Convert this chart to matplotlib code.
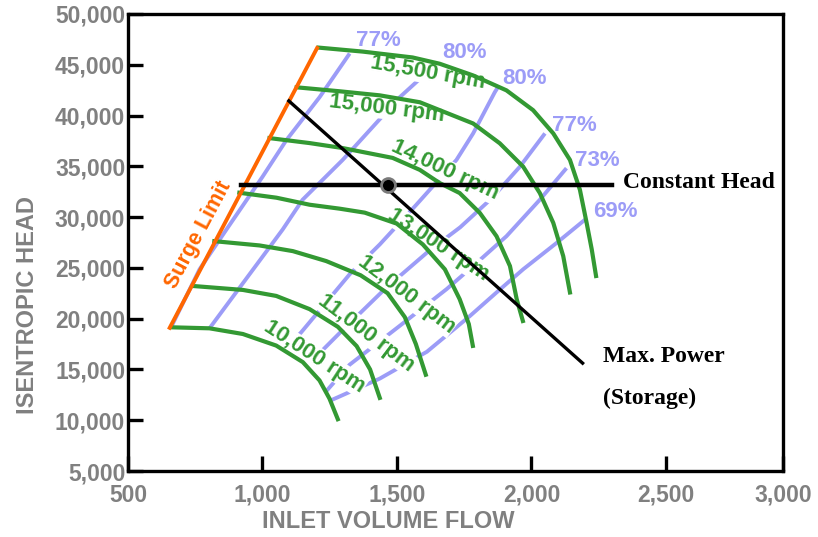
import matplotlib
matplotlib.use("Agg")
import matplotlib.pyplot as plt

plt.rcParams['font.family'] = ['Liberation Sans', 'DejaVu Sans']

GREEN = '#339933'
BLUE = '#9c9cf7'
ORANGE = '#ff6600'
GRAY = '#808080'

# speed lines: inlet volume flow vs isentropic head
flow_10k = [660, 803, 927, 1051, 1150, 1212, 1249, 1280]
head_10k = [19150, 19050, 18490, 17350, 15720, 13920, 12130, 10100]
flow_11k = [741, 927, 1051, 1175, 1280, 1350, 1400, 1436]
head_11k = [23220, 22830, 22240, 20940, 19200, 17300, 15000, 12200]
flow_12k = [821, 989, 1113, 1237, 1365, 1465, 1529, 1570, 1607]
head_12k = [27630, 27210, 26650, 25670, 24270, 22510, 20160, 17510, 14480]
flow_13k = [914, 1052, 1175, 1287, 1380, 1499, 1596, 1678, 1733, 1767, 1782]
head_13k = [32400, 31910, 31220, 30830, 30440, 29360, 27310, 24860, 21920, 19470, 17320]
flow_14k = [1026, 1175, 1298, 1484, 1585, 1659, 1733, 1808, 1870, 1920, 1945, 1968]
head_14k = [37780, 37290, 36800, 35830, 34650, 33350, 32370, 30410, 28120, 25180, 21920, 19770]
flow_15k = [1127, 1287, 1436, 1585, 1659, 1783, 1882, 1969, 2031, 2081, 2118, 2143]
head_15k = [42780, 42390, 41990, 41310, 40530, 39220, 37270, 34970, 32370, 29430, 26160, 22580]
flow_155k = [1209, 1372, 1558, 1659, 1783, 1907, 2006, 2081, 2143, 2180, 2205, 2224, 2240]
head_155k = [46690, 46300, 45720, 45100, 43950, 42480, 40530, 38240, 35630, 32690, 29430, 26820, 24200]

speed_names = ['10,000 rpm', '11,000 rpm', '12,000 rpm', '13,000 rpm',
               '14,000 rpm', '15,000 rpm', '15,500 rpm']

# efficiency lines
flow_e1 = [660, 766, 866, 1000, 1089, 1212, 1324]
head_e1 = [19150, 24860, 28780, 33970, 37590, 41800, 46110]
flow_e2 = [803, 1075, 1149, 1298, 1510, 1648]
head_e2 = [19050, 28780, 31710, 35630, 41800, 45130]
flow_e3 = [1082, 1144, 1324, 1436, 1572, 1721, 1783, 1864, 1878]
head_e3 = [16930, 18660, 24370, 27310, 31220, 35630, 38240, 42320, 42900]
flow_e4 = [1165, 1287, 1458, 1620, 1735, 1850, 1957, 2050]
head_e4 = [15350, 18590, 23000, 26700, 29000, 31800, 34970, 38240]
flow_e5 = [1235, 1324, 1510, 1684, 1783, 1907, 2031, 2130]
head_e5 = [12800, 15470, 19290, 22900, 25180, 28120, 31710, 34820]
flow_e6 = [1252, 1436, 1611, 1771, 1870, 1969, 2094, 2199]
head_e6 = [11930, 14100, 16740, 20260, 22580, 24860, 27470, 29750]

eff_names = ['77%', '80%', '80%', '77%', '73%', '69%']

surge_flow = [655, 1203]
surge_head = [19100, 46650]

const_head_flow = [921, 2298]
const_head = [33180, 33180]

max_power_flow = [1098, 2190]
max_power_head = [41440, 15620]

op_flow = 1466
op_head = 33180

x_ticks = [500, 1000, 1500, 2000, 2500, 2935]
x_tick_labels = ['500', '1,000', '1,500', '2,000', '2,500', '3,000']
y_ticks = [5000, 10000, 15000, 20000, 25000, 30000, 35000, 40000, 45000, 50000]

fig = plt.figure(figsize=(8.18, 5.37), dpi=100)
ax = fig.add_axes([128 / 818, 1 - 471 / 537, 655 / 818, 457 / 537])
ax.set_xlim(500, 2935)
ax.set_ylim(5000, 50000)

# efficiency lines (under everything)
eff_lines = [(flow_e1, head_e1), (flow_e2, head_e2), (flow_e3, head_e3),
             (flow_e4, head_e4), (flow_e5, head_e5), (flow_e6, head_e6)]
for fl, hd in eff_lines:
    ax.plot(fl, hd, color=BLUE, lw=2.8, zorder=1, solid_capstyle='butt',
            solid_joinstyle='round')

eff_label_pos = [(1432, 47380), (1751, 46200), (1974, 43660),
                 (2158, 39060), (2244, 35530), (2310, 30540)]
for name, (x, y) in zip(eff_names, eff_label_pos):
    ax.text(x, y, name, color=BLUE, fontsize=16, fontweight='bold',
            ha='center', va='center', zorder=2)

# speed lines
speed_lines = [(flow_10k, head_10k), (flow_11k, head_11k), (flow_12k, head_12k),
               (flow_13k, head_13k), (flow_14k, head_14k), (flow_15k, head_15k),
               (flow_155k, head_155k)]
for fl, hd in speed_lines:
    ax.plot(fl, hd, color=GREEN, lw=3.0, zorder=3, solid_joinstyle='round')

speed_label_pos = [(1194, 16240), (1386, 18590), (1535, 22410), (1652, 27310),
                   (1678, 34600), (1464, 40720), (1614, 44250)]
speed_label_rot = [-33, -37, -37, -33, -25, -7, -10]
for name, (x, y), r in zip(speed_names, speed_label_pos, speed_label_rot):
    ax.text(x, y, name, color=GREEN, fontsize=16, fontweight='bold',
            ha='center', va='center', rotation=r, rotation_mode='anchor',
            zorder=2, bbox=dict(facecolor='white', edgecolor='none', pad=0.5))

# surge limit
ax.plot(surge_flow, surge_head, color=ORANGE, lw=2.8, zorder=4)
ax.text(763, 28280, 'Surge Limit', color=ORANGE, fontsize=15.5, fontweight='bold',
        ha='center', va='center', rotation=62, rotation_mode='anchor')

# constant head and max power lines
ax.plot(const_head_flow, const_head, color='black', lw=3.2, zorder=5)
ax.plot(max_power_flow, max_power_head, color='black', lw=2.4, zorder=5)
ax.plot([op_flow], [op_head], 'o', ms=10, mfc='black', mec='#7a7a7a', mew=2, zorder=6)

serif = ['Liberation Serif', 'DejaVu Serif']
ax.text(2339, 33380, 'Constant Head', family=serif, fontsize=17, fontweight='bold',
        ha='left', va='center')
ax.text(2267, 16240, 'Max. Power', family=serif, fontsize=17, fontweight='bold',
        ha='left', va='center')
ax.text(2267, 12130, '(Storage)', family=serif, fontsize=17, fontweight='bold',
        ha='left', va='center')

# axes styling
ax.set_xticks(x_ticks)
ax.set_xticklabels(x_tick_labels)
ax.set_yticks(y_ticks)
ax.set_yticklabels([f'{v:,}' for v in y_ticks])
ax.tick_params(direction='in', length=11, width=2.4, color='black',
               labelsize=16.5, labelcolor=GRAY)
ax.tick_params(axis='x', pad=9)
ax.tick_params(axis='y', pad=2)
for lbl in ax.get_xticklabels() + ax.get_yticklabels():
    lbl.set_fontweight('bold')
for sp in ax.spines.values():
    sp.set_linewidth(2.4)
    sp.set_color('black')

fig.text(28 / 818, 1 - 305 / 537, 'ISENTROPIC HEAD', color=GRAY, fontsize=17,
         fontweight='bold', rotation=90, ha='center', va='center')
fig.text(388 / 818, 1 - 522 / 537, 'INLET VOLUME FLOW', color=GRAY, fontsize=17,
         fontweight='bold', ha='center', va='center')

fig.savefig('out.png', dpi=100)
